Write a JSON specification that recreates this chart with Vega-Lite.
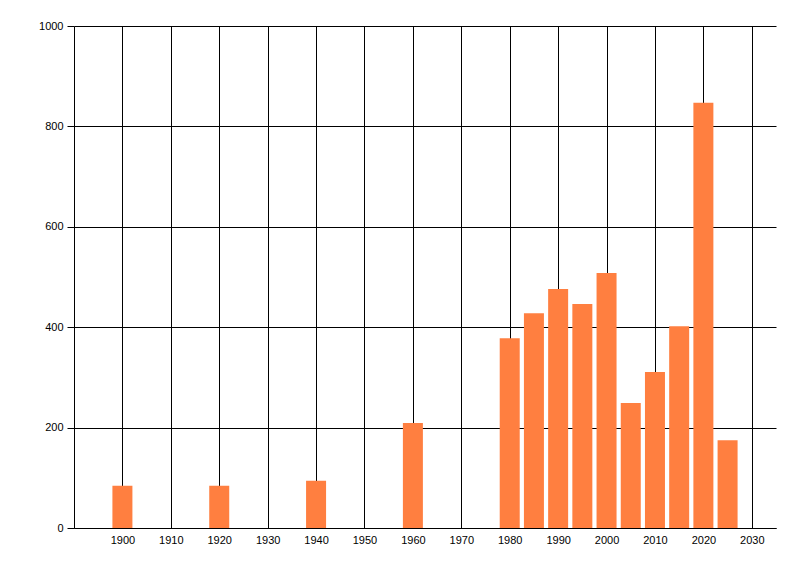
{
  "$schema": "https://vega.github.io/schema/vega-lite/v6.json",
  "autosize": "none",
  "width": 702,
  "height": 502,
  "padding": {"left": 74, "top": 26, "right": 24, "bottom": 48},
  "background": "white",
  "config": {
    "view": {"stroke": null},
    "font": "Liberation Sans",
    "axis": {
      "labelFont": "Liberation Sans",
      "labelFontSize": 11,
      "labelColor": "#000000",
      "gridColor": "#000000",
      "gridOpacity": 1,
      "gridWidth": 1,
      "domainColor": "#000000",
      "domainWidth": 1,
      "tickColor": "#000000",
      "title": null
    }
  },
  "data": {
    "values": [
      {"year": 1900, "count": 84},
      {"year": 1920, "count": 84},
      {"year": 1940, "count": 94},
      {"year": 1960, "count": 209},
      {"year": 1980, "count": 378},
      {"year": 1985, "count": 428},
      {"year": 1990, "count": 476},
      {"year": 1995, "count": 446},
      {"year": 2000, "count": 508},
      {"year": 2005, "count": 249},
      {"year": 2010, "count": 311},
      {"year": 2015, "count": 402},
      {"year": 2020, "count": 847},
      {"year": 2025, "count": 175}
    ]
  },
  "mark": {"type": "bar", "width": 20, "color": "#FF7F40"},
  "encoding": {
    "x": {
      "field": "year",
      "type": "quantitative",
      "scale": {"domain": [1890, 2035], "nice": false, "zero": false, "padding": 0},
      "axis": {
        "values": [1900, 1910, 1920, 1930, 1940, 1950, 1960, 1970, 1980, 1990, 2000, 2010, 2020, 2030],
        "format": "d",
        "grid": true,
        "ticks": false,
        "labelPadding": 6,
        "labelFlush": false,
        "labelOverlap": false
      }
    },
    "y": {
      "field": "count",
      "type": "quantitative",
      "scale": {"domain": [0, 1000], "nice": false},
      "axis": {
        "values": [0, 200, 400, 600, 800, 1000],
        "format": "d",
        "grid": true,
        "tickSize": 7,
        "labelPadding": 4,
        "labelFlush": false
      }
    }
  }
}
